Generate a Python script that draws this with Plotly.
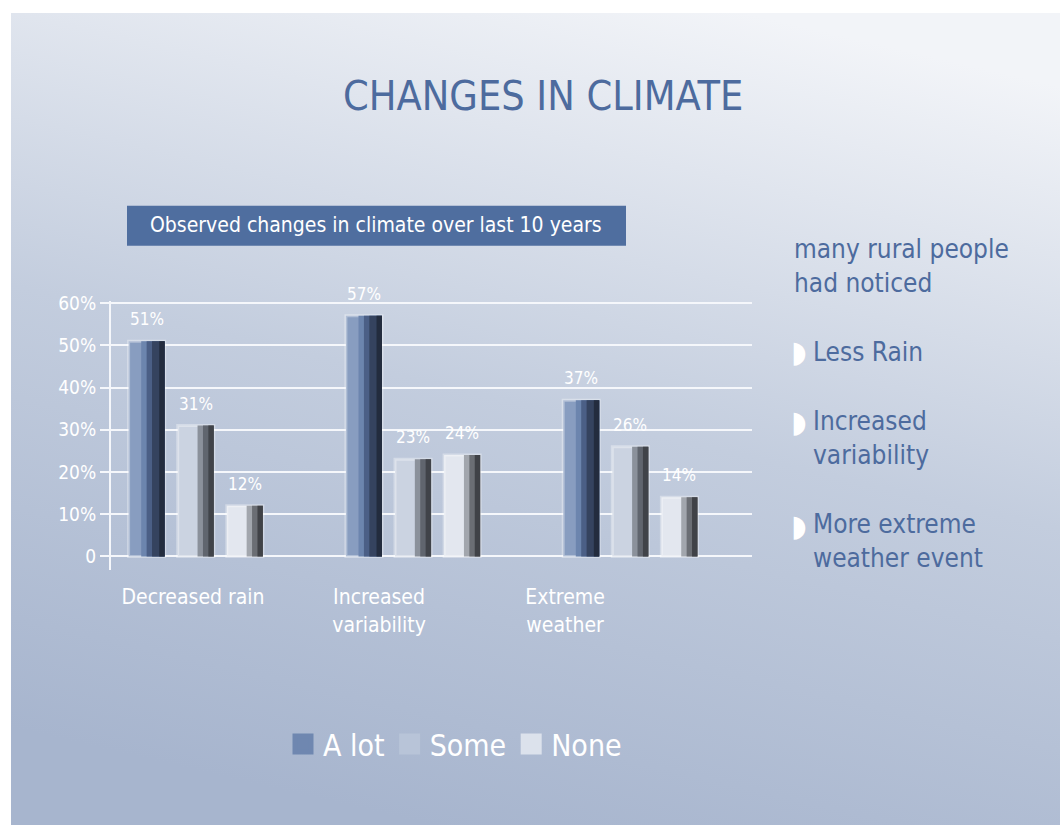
import base64
import plotly.graph_objects as go

# ---------------- data ----------------
categories = ["Decreased rain", "Increased<br>variability", "Extreme<br>weather"]
series_names = ["A lot", "Some", "None"]
a_lot = [51, 57, 37]
some = [31, 23, 26]
none = [12, 24, 14]
y_tick_values = [0, 10, 20, 30, 40, 50, 60]
y_tick_labels = ["0", "10%", "20%", "30%", "40%", "50%", "60%"]
notes_header = "many rural people<br>had noticed"
notes_items = ["Less Rain", "Increased<br>variability", "More extreme<br>weather event"]

# ---------------- styling ----------------
W, H = 1060, 825
FONT = "Liberation Sans Narrow, Arial Narrow, DejaVu Sans Condensed, sans-serif"
BLUE_TEXT = "#4d6b9e"
legend_colors = ["#6f87b0", "#b8c4d8", "#dce2ec"]
face_colors = ["#889dc0", "#cbd3e1", "#e3e7ef"]
# shading bands across each bar: (start fraction of bar width, colour)
shade_bands = [
    [(0.35, "#6c85ae"), (0.5, "#4b5f86"), (0.65, "#35435f"), (0.85, "#232c3e")],
    [(0.55, "#8b919b"), (0.7, "#60656e"), (0.85, "#404349")],
    [(0.55, "#a2a6ad"), (0.7, "#6b6e74"), (0.85, "#404247")],
]
series_values = [a_lot, some, none]

BAR_W = 0.166
STEP = 0.226


def px(x):
    return x / W


def py(y):
    # paper y from a pixel row (with a small correction for the capture offset)
    return 1 - ((y - 8) / 0.9903) / H


fig = go.Figure()
annotations = []

for i, (name, vals) in enumerate(zip(series_names, series_values)):
    left = (i - 1) * STEP - BAR_W / 2
    fig.add_trace(go.Bar(
        x=categories, y=vals, name=name, legendgroup=name, showlegend=False,
        offset=left, width=BAR_W,
        marker=dict(color=face_colors[i], line=dict(color="rgba(255,255,255,0.35)", width=3)),
        hovertemplate="%{x}: %{y}%<extra>" + name + "</extra>",
    ))
    for start, col in shade_bands[i]:
        fig.add_trace(go.Bar(
            x=categories, y=vals, legendgroup=name, showlegend=False, hoverinfo="skip",
            offset=left + BAR_W * start, width=BAR_W * (1 - start),
            marker=dict(color=col, line=dict(width=0)),
        ))
    # legend entry with a large square swatch
    fig.add_trace(go.Scatter(
        x=[None], y=[None], mode="markers", name=name, legendgroup=name,
        marker=dict(symbol="square", size=16, color=legend_colors[i],
                    line=dict(color=legend_colors[i], width=5)),
    ))
    # value labels above each bar
    for j, v in enumerate(vals):
        annotations.append(dict(
            text=f"{v}%", x=j + (i - 1) * STEP, y=v, xref="x", yref="y",
            showarrow=False, xanchor="center", yanchor="bottom", yshift=10,
            font=dict(family=FONT, size=17, color="white"),
        ))

# invisible carrier trace so the category-label axis is drawn
fig.add_trace(go.Scatter(
    x=categories, y=a_lot, xaxis="x2", mode="markers",
    marker=dict(opacity=0), showlegend=False, hoverinfo="skip",
))

# background gradient panel
svg = (
    '<svg xmlns="http://www.w3.org/2000/svg" width="1049" height="813" '
    'viewBox="0 0 1049 813" preserveAspectRatio="none"><defs>'
    '<linearGradient id="g" x1="0.7" y1="0" x2="0.4" y2="1">'
    '<stop offset="0" stop-color="#f2f4f8"/>'
    '<stop offset="0.5" stop-color="#c3cdde"/>'
    '<stop offset="1" stop-color="#a7b5ce"/>'
    '</linearGradient></defs><rect width="100%" height="100%" fill="url(#g)"/></svg>'
)
src = "data:image/svg+xml;base64," + base64.b64encode(svg.encode()).decode()

x_dom = [px(111), px(752)]
annotations += [
    dict(text="CHANGES IN CLIMATE", x=px(543), y=py(95), xref="paper", yref="paper",
         showarrow=False, font=dict(family=FONT, size=41, color=BLUE_TEXT),
         xanchor="center", yanchor="middle"),
    dict(text="Observed changes in climate over last 10 years", x=px(376), y=py(224),
         xref="paper", yref="paper", showarrow=False,
         font=dict(family=FONT, size=21, color="white"), xanchor="center", yanchor="middle"),
    dict(text=notes_header, x=px(792), y=py(265), xref="paper", yref="paper",
         showarrow=False, align="left", font=dict(family=FONT, size=26, color=BLUE_TEXT),
         xanchor="left", yanchor="middle"),
]
item_centers = [351, 438, 541]
for txt, yc in zip(notes_items, item_centers):
    annotations.append(dict(text=txt, x=px(811), y=py(yc), xref="paper", yref="paper",
                            showarrow=False, align="left",
                            font=dict(family=FONT, size=26, color=BLUE_TEXT),
                            xanchor="left", yanchor="middle"))
bullet_rows = [351, 421, 525]
for yc in bullet_rows:
    annotations.append(dict(text="◗", x=px(789), y=py(yc), xref="paper", yref="paper",
                            showarrow=False, font=dict(family="DejaVu Sans", size=30, color="white"),
                            xanchor="left", yanchor="middle"))

fig.update_layout(
    width=W, height=H, autosize=False,
    margin=dict(l=0, r=0, t=0, b=0),
    paper_bgcolor="white", plot_bgcolor="rgba(0,0,0,0)",
    barmode="overlay",
    font=dict(family=FONT, color="white"),
    images=[dict(source=src, xref="paper", yref="paper", x=px(11), y=py(12),
                 sizex=px(1060) - px(11), sizey=py(12),
                 xanchor="left", yanchor="top", sizing="stretch", layer="below")],
    shapes=[dict(type="rect", xref="paper", yref="paper",
                 x0=px(127), x1=px(626), y0=py(245), y1=py(205),
                 fillcolor="#4f6e9f", line=dict(width=0), layer="above")],
    annotations=annotations,
    xaxis=dict(type="category", domain=x_dom, range=[-0.39, 2.56],
               showticklabels=False, showgrid=False, zeroline=False, showline=False,
               fixedrange=True),
    xaxis2=dict(type="category", overlaying="x", anchor="y", side="bottom",
                range=[-0.441, 3.005],
                showgrid=False, zeroline=False, showline=False, ticks="",
                tickfont=dict(family=FONT, size=21, color="white"),
                ticklabelstandoff=12),
    yaxis=dict(domain=[py(570), py(300)], range=[-3.3, 60.6],
               tickmode="array", tickvals=y_tick_values, ticktext=y_tick_labels,
               showgrid=True, gridcolor="#f5f7fb", gridwidth=2,
               ticks="outside", ticklen=9, tickwidth=2, tickcolor="#f5f7fb",
               showline=True, linecolor="#f5f7fb", linewidth=2, zeroline=False,
               tickfont=dict(family=FONT, size=19, color="white"), ticklabelstandoff=0),
    legend=dict(orientation="h", x=px(283), xanchor="left", y=py(744), yanchor="middle",
                font=dict(family=FONT, size=30, color="white"), bgcolor="rgba(0,0,0,0)",
                itemwidth=30, traceorder="normal"),
    showlegend=True,
)

fig.write_html(
    "out.html",
    config={"displayModeBar": False},
    post_script=(
        "document.documentElement.style.margin='0';"
        "document.body.style.margin='0';document.body.style.padding='0';"
        "var d=document.getElementsByClassName('plotly-graph-div')[0];"
        "d.style.position='fixed';d.style.left='0px';d.style.top='0px';"
    ),
)
